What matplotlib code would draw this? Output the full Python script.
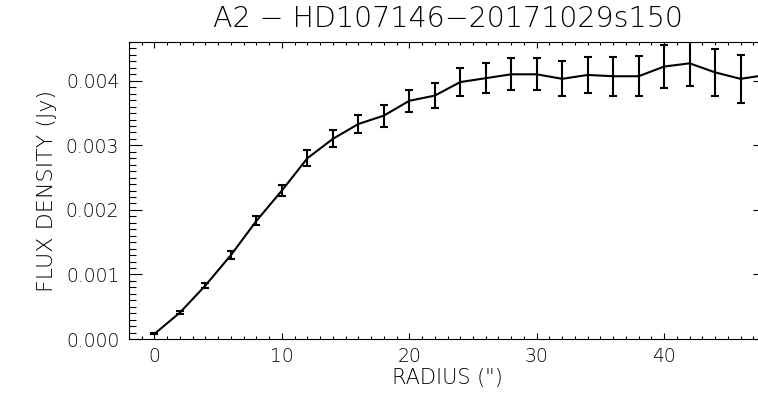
import matplotlib
matplotlib.use("Agg")
import matplotlib.pyplot as plt
from matplotlib.ticker import MultipleLocator, FormatStrFormatter

# radius (arcsec) and enclosed flux density (Jy) with 1-sigma errors
radius = [0, 2, 4, 6, 8, 10, 12, 14, 16, 18, 20, 22, 24,
          26, 28, 30, 32, 34, 36, 38, 40, 42, 44, 46, 48]
flux = [0.00008, 0.00041, 0.00083, 0.00130, 0.00183, 0.00230, 0.00280,
        0.00310, 0.00333, 0.00346, 0.00369, 0.00377, 0.00398, 0.00404,
        0.00410, 0.00410, 0.00403, 0.00409, 0.00407, 0.00407, 0.00422,
        0.00427, 0.00413, 0.00403, 0.00409]
flux_err = [0.00001, 0.00002, 0.00004, 0.00006, 0.00007, 0.00009, 0.00012,
            0.00013, 0.00014, 0.00017, 0.00017, 0.00019, 0.00021, 0.00023,
            0.00025, 0.00025, 0.00027, 0.00028, 0.00030, 0.00031, 0.00033,
            0.00035, 0.00036, 0.00037, 0.00038]

title = "A2 \u2212 HD107146\u221220171029s150"

plt.rcParams["font.family"] = ["DejaVu Sans"]

fig = plt.figure(figsize=(7.58, 3.98), dpi=100)
# the original IDL plot is cropped on the right, so the axes run past the figure edge
ax = fig.add_axes([0.1702, 0.1482, 0.8404, 0.7462])

ax.errorbar(radius, flux, yerr=flux_err, color="black", linewidth=1.5,
            elinewidth=1.5, capsize=3, capthick=1.5)

ax.set_xlim(-2, 48)
ax.set_ylim(0, 0.0046)

ax.xaxis.set_major_locator(MultipleLocator(10))
ax.xaxis.set_minor_locator(MultipleLocator(1))
ax.yaxis.set_major_locator(MultipleLocator(0.001))
ax.yaxis.set_minor_locator(MultipleLocator(0.0001))
ax.yaxis.set_major_formatter(FormatStrFormatter("%.3f"))

ax.tick_params(axis="both", which="both", direction="in",
               top=True, right=True, width=0.8, labelsize=13.5)
ax.tick_params(axis="x", which="major", length=4.3, pad=6)
ax.tick_params(axis="x", which="minor", length=2.2)
ax.tick_params(axis="y", which="major", length=9.4, pad=7)
ax.tick_params(axis="y", which="minor", length=5)
for sp in ax.spines.values():
    sp.set_linewidth(0.8)

for lab in ax.get_xticklabels() + ax.get_yticklabels():
    lab.set_fontweight("light")

ax.set_xlabel("RADIUS (\")", fontsize=15, fontweight="light", labelpad=1)
ax.set_ylabel("FLUX DENSITY (Jy)", fontsize=16, fontweight="light", labelpad=6)
ax.set_title(title, fontsize=20.5, fontweight="light", pad=11)

fig.savefig("out.png", dpi=100)
